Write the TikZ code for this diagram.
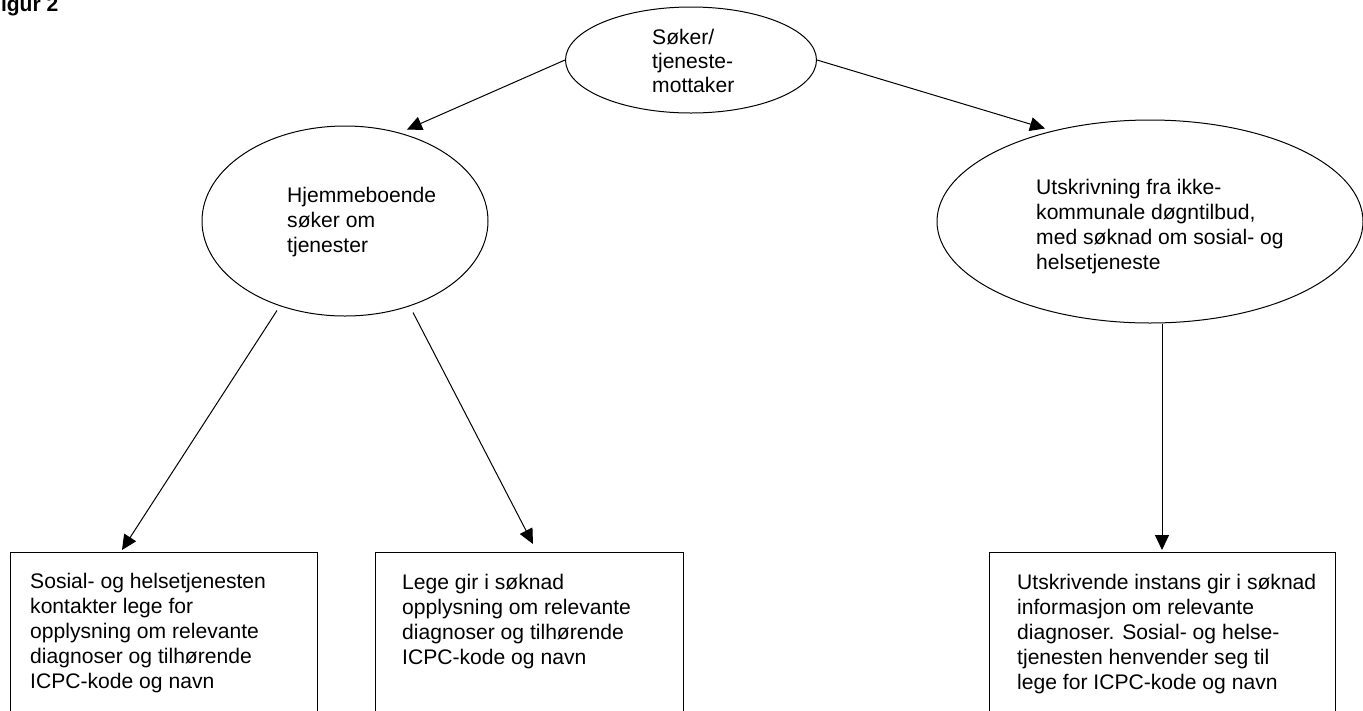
\documentclass[tikz,border=0pt]{standalone}
\usepackage{fontspec}
\setmainfont{Liberation Sans}
\usetikzlibrary{shapes.geometric,arrows.meta}
\tikzset{
  oval/.style={ellipse, draw, line width=1pt, inner sep=0pt},
  boxnode/.style={rectangle, draw, line width=1pt, inner sep=0pt, anchor=north west},
  txt/.style={anchor=base west, inner sep=0pt, align=left, font=\fontsize{21.1}{25}\selectfont},
  conn/.style={line width=1pt, -{Triangle[length=15pt,width=14pt]}}
}
\begin{document}
\begin{tikzpicture}[x=1pt,y=-1pt]
\useasboundingbox (0,0) rectangle (1363,710);
\clip (0,0) rectangle (1363,710);
\fill[white] (0,0) rectangle (1363,710);

\node[anchor=base west, inner sep=0pt, font=\fontsize{21}{25}\selectfont\bfseries] (fig) at (-12,11) {Figur 2};

% text nodes are placed by the baseline of their LAST line
\node[oval, minimum width=251pt, minimum height=106pt] (top) at (691,60) {};
\node[txt, font=\fontsize{21.1}{24}\selectfont] (toptxt) at (652,92) {Søker/\\tjeneste-\\mottaker};

\node[oval, minimum width=286pt, minimum height=190pt] (le) at (345,221) {};
\node[txt] (letxt) at (287,252) {Hjemmeboende\\søker om\\tjenester};

\node[oval, minimum width=426pt, minimum height=203pt] (re) at (1150,221.5) {};
\node[txt] (retxt) at (1036,269) {Utskrivning fra ikke-\\kommunale døgntilbud,\\med søknad om sosial- og\\helsetjeneste};

\node[boxnode, minimum width=307pt, minimum height=200pt] (b1) at (10,552) {};
\node[txt] (b1txt) at (30,688) {Sosial- og helsetjenesten\\kontakter lege for\\opplysning om relevante\\diagnoser og tilhørende\\ICPC-kode og navn};

\node[boxnode, minimum width=308pt, minimum height=200pt] (b2) at (375,552) {};
\node[txt] (b2txt) at (402,664) {Lege gir i søknad\\opplysning om relevante\\diagnoser og tilhørende\\ICPC-kode og navn};

\node[boxnode, minimum width=346pt, minimum height=200pt] (b3) at (989,552) {};
\node[txt] (b3txt) at (1017,689) {Utskrivende instans gir i søknad\\informasjon om relevante\\diagnoser. Sosial- og helse-\\tjenesten henvender seg til\\lege for ICPC-kode og navn};

\draw[conn] (top.west) -- ([shift={(62,4)}]le.north);
\draw[conn] (top.east) -- ([shift={(-105,9)}]re.north);
\draw[conn] ([shift={(-68,-6)}]le.south) -- ([shift={(112,-2)}]b1.north west);
\draw[conn] ([shift={(68,-4)}]le.south) -- ([shift={(158,-8)}]b2.north west);
\draw[conn] ([shift={(12,0)}]re.south) -- ([shift={(173,-2)}]b3.north west);
\end{tikzpicture}
\end{document}
